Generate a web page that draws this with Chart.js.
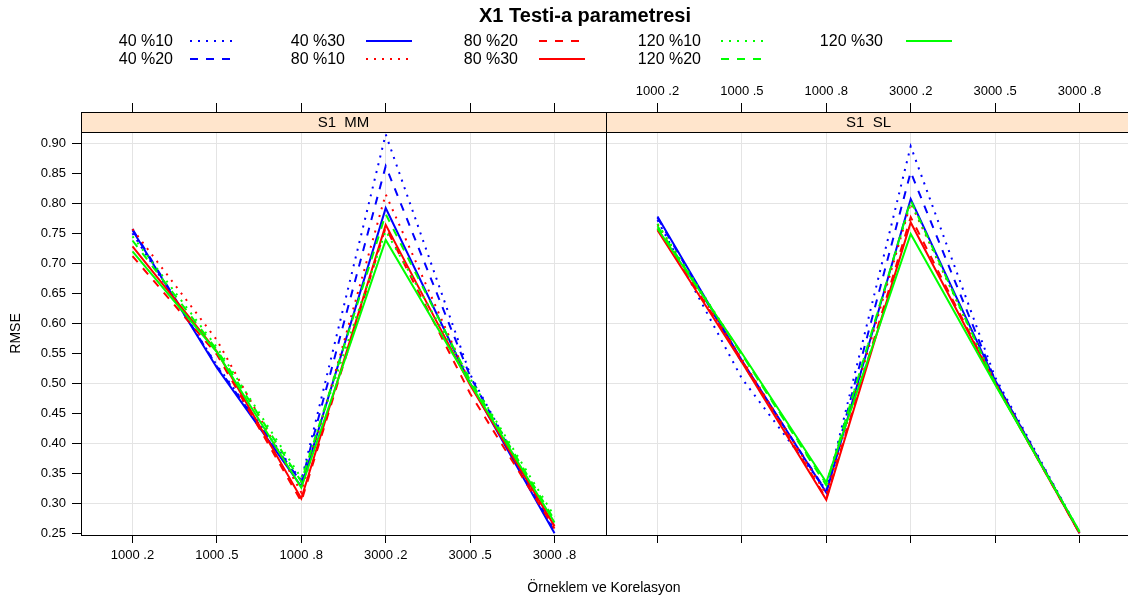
<!DOCTYPE html>
<html><head><meta charset="utf-8">
<script src="https://cdn.jsdelivr.net/npm/chart.js@4/dist/chart.umd.min.js"></script>
<style>
html,body{margin:0;padding:0;background:#fff;}
#wrap{position:relative;width:1128px;height:600px;overflow:hidden;font-family:Arial,"Liberation Sans",sans-serif;background:#fff;}
canvas{position:absolute;left:0;top:0;}
.t{position:absolute;white-space:pre;color:#000;line-height:1;}
</style></head><body>
<div id="wrap">
<canvas id="c1" width="1128" height="600"></canvas>
<canvas id="c2" width="1136" height="600"></canvas>
<div class="t" id="title" style="left:0;width:1170px;top:5px;text-align:center;font-size:20px;font-weight:bold;">X1 Testi-a parametresi</div>
<div class="t" id="xtitle" style="left:0;width:1208px;top:580px;text-align:center;font-size:14px;">Örneklem ve Korelasyon</div>
<div id="legend"></div>
</div>
<script>
// ---- data ----
const categories = ['1000 .2', '1000 .5', '1000 .8', '3000 .2', '3000 .5', '3000 .8'];
const yTicks = [0.25, 0.30, 0.35, 0.40, 0.45, 0.50, 0.55, 0.60, 0.65, 0.70, 0.75, 0.80, 0.85, 0.90];
const panelNames = ['S1  MM', 'S1  SL'];
const seriesNames = ['40 %10', '40 %20', '40 %30', '80 %10', '80 %20', '80 %30', '120 %10', '120 %20', '120 %30'];
const seriesColors = ['#0000ff', '#0000ff', '#0000ff', '#ff0000', '#ff0000', '#ff0000', '#00ff00', '#00ff00', '#00ff00'];
const seriesLty = ['dotted', 'dashed', 'solid', 'dotted', 'dashed', 'solid', 'dotted', 'dashed', 'solid'];

// S1 MM panel
const mm40_10  = [0.750, 0.530, 0.338, 0.915, 0.515, 0.255];
const mm40_20  = [0.757, 0.528, 0.335, 0.862, 0.512, 0.252];
const mm40_30  = [0.755, 0.526, 0.328, 0.792, 0.500, 0.250];
const mm80_10  = [0.757, 0.572, 0.318, 0.815, 0.500, 0.262];
const mm80_20  = [0.712, 0.548, 0.303, 0.760, 0.483, 0.258];
const mm80_30  = [0.728, 0.553, 0.308, 0.764, 0.497, 0.262];
const mm120_10 = [0.745, 0.560, 0.342, 0.754, 0.508, 0.278];
const mm120_20 = [0.738, 0.556, 0.336, 0.782, 0.505, 0.272];
const mm120_30 = [0.720, 0.552, 0.326, 0.739, 0.500, 0.268];

// S1 SL panel
const sl40_10  = [0.772, 0.508, 0.322, 0.895, 0.510, 0.252];
const sl40_20  = [0.776, 0.535, 0.320, 0.852, 0.505, 0.251];
const sl40_30  = [0.778, 0.538, 0.318, 0.807, 0.505, 0.250];
const sl80_10  = [0.765, 0.540, 0.315, 0.800, 0.502, 0.251];
const sl80_20  = [0.758, 0.538, 0.308, 0.777, 0.500, 0.250];
const sl80_30  = [0.755, 0.535, 0.306, 0.768, 0.500, 0.250];
const sl120_10 = [0.766, 0.548, 0.332, 0.802, 0.500, 0.252];
const sl120_20 = [0.762, 0.548, 0.330, 0.805, 0.500, 0.252];
const sl120_30 = [0.758, 0.550, 0.335, 0.749, 0.498, 0.253];

const mmSeries = [mm40_10, mm40_20, mm40_30, mm80_10, mm80_20, mm80_30, mm120_10, mm120_20, mm120_30];
const slSeries = [sl40_10, sl40_20, sl40_30, sl80_10, sl80_20, sl80_30, sl120_10, sl120_20, sl120_30];

// ---- styling ----
const dashes = {dotted: [2, 6], dashed: [8, 8], solid: []};
const FONT = 'Arial, "Liberation Sans", sans-serif';
const GRID = '#e4e4e4';
const STRIP_TOP = 112;

function datasetsFor(values) {
  return values.map((vals, i) => ({
    label: seriesNames[i],
    data: vals.map((v, k) => ({x: k + 1, y: v})),
    borderColor: seriesColors[i],
    backgroundColor: seriesColors[i],
    borderDash: dashes[seriesLty[i]],
    borderWidth: 2,
    pointRadius: 0,
    tension: 0,
    fill: false,
    order: values.length - i
  }));
}

const panelPlugin = {
  id: 'panel',
  afterDraw(chart, args, opts) {
    const {ctx, chartArea: a} = chart;
    ctx.save();
    ctx.strokeStyle = '#000';
    ctx.lineWidth = 1;
    ctx.strokeRect(Math.round(a.left) + 0.5, Math.round(a.top) + 0.5, Math.round(a.right - a.left), Math.round(a.bottom - a.top));
    ctx.fillStyle = '#ffe5cc';
    ctx.fillRect(a.left, STRIP_TOP, a.right - a.left, a.top - STRIP_TOP);
    ctx.strokeRect(Math.round(a.left) + 0.5, STRIP_TOP + 0.5, Math.round(a.right - a.left), Math.round(a.top - STRIP_TOP));
    ctx.fillStyle = '#000';
    ctx.font = '15px ' + FONT;
    ctx.textAlign = 'center';
    ctx.textBaseline = 'middle';
    ctx.fillText(opts.label, (a.left + a.right) / 2, (STRIP_TOP + a.top) / 2 + 1);
    ctx.restore();
  }
};

function catTicks(scale) { scale.ticks = categories.map((c, i) => ({value: i + 1})); }

function makeChart(id, values, panelIdx) {
  const first = panelIdx === 0;
  return new Chart(document.getElementById(id), {
    type: 'line',
    data: {datasets: datasetsFor(values)},
    plugins: [panelPlugin],
    options: {
      responsive: false,
      animation: false,
      devicePixelRatio: 1,
      layout: {padding: first ? {left: 0, right: 522, top: 0, bottom: 0} : {left: 606, right: 5, top: 0, bottom: 0}},
      plugins: {legend: {display: false}, tooltip: {enabled: false}, title: {display: false}, panel: {label: panelNames[panelIdx]}},
      scales: {
        x: {
          type: 'linear', position: 'bottom', min: 0.39, max: 6.61,
          afterBuildTicks: catTicks,
          afterFit: s => { s.height = 65; },
          ticks: {display: first, callback: (v, i) => categories[i], font: {size: 13, family: FONT}, color: '#000', padding: 5, maxRotation: 0, autoSkip: false},
          grid: {color: GRID, lineWidth: 1, tickColor: '#000', tickLength: 8, drawTicks: true},
          border: {color: '#000'}
        },
        x2: {
          type: 'linear', position: 'top', min: 0.39, max: 6.61,
          afterBuildTicks: catTicks,
          afterFit: s => { s.height = 132; },
          ticks: {display: !first, callback: (v, i) => categories[i], font: {size: 13, family: FONT}, color: '#000', padding: 4, maxRotation: 0, autoSkip: false},
          grid: {drawOnChartArea: false, tickColor: '#000', tickLength: 29, drawTicks: true},
          border: {color: '#000'}
        },
        y: {
          type: 'linear', position: 'left', min: 0.2472, max: 0.9188,
          afterBuildTicks: s => { s.ticks = yTicks.map(v => ({value: v})); },
          afterFit: s => { s.width = first ? 81 : 0; },
          ticks: {display: first, callback: v => v.toFixed(2), font: {size: 13, family: FONT}, color: '#000', padding: 6},
          grid: {
            color: ctx => (ctx.tick && Math.abs(ctx.tick.value * 10 - Math.round(ctx.tick.value * 10)) < 1e-6) ? GRID : 'rgba(0,0,0,0)',
            tickColor: '#000', tickLength: 9, drawTicks: first
          },
          border: {color: '#000'},
          title: {display: first, text: 'RMSE', font: {size: 14, family: FONT}, color: '#000', padding: {top: 8, bottom: 0}}
        }
      }
    }
  });
}

makeChart('c1', mmSeries, 0);
makeChart('c2', slSeries, 1);

// ---- legend (5 columns x 2 rows, column-major) ----
const legendCols = [
  {textRight: 173, lineStart: 190},
  {textRight: 345, lineStart: 366},
  {textRight: 518, lineStart: 539},
  {textRight: 701, lineStart: 721},
  {textRight: 883, lineStart: 906}
];
const legendRows = [41, 59];
const LINE_LEN = 46;
const legend = document.getElementById('legend');
seriesNames.forEach((name, i) => {
  const col = legendCols[Math.floor(i / 2)];
  const rowY = legendRows[i % 2];
  const t = document.createElement('div');
  t.className = 't';
  t.textContent = name;
  t.style.cssText = `right:${1128 - col.textRight}px;top:${rowY - 8}px;font-size:16px;`;
  legend.appendChild(t);
  const c = document.createElement('canvas');
  c.width = LINE_LEN; c.height = 6;
  c.style.cssText = `left:${col.lineStart}px;top:${rowY - 3}px;`;
  const g = c.getContext('2d');
  g.strokeStyle = seriesColors[i];
  g.lineWidth = 2;
  g.setLineDash(dashes[seriesLty[i]]);
  g.beginPath(); g.moveTo(0, 3); g.lineTo(LINE_LEN, 3); g.stroke();
  legend.appendChild(c);
});
</script>
</body></html>
